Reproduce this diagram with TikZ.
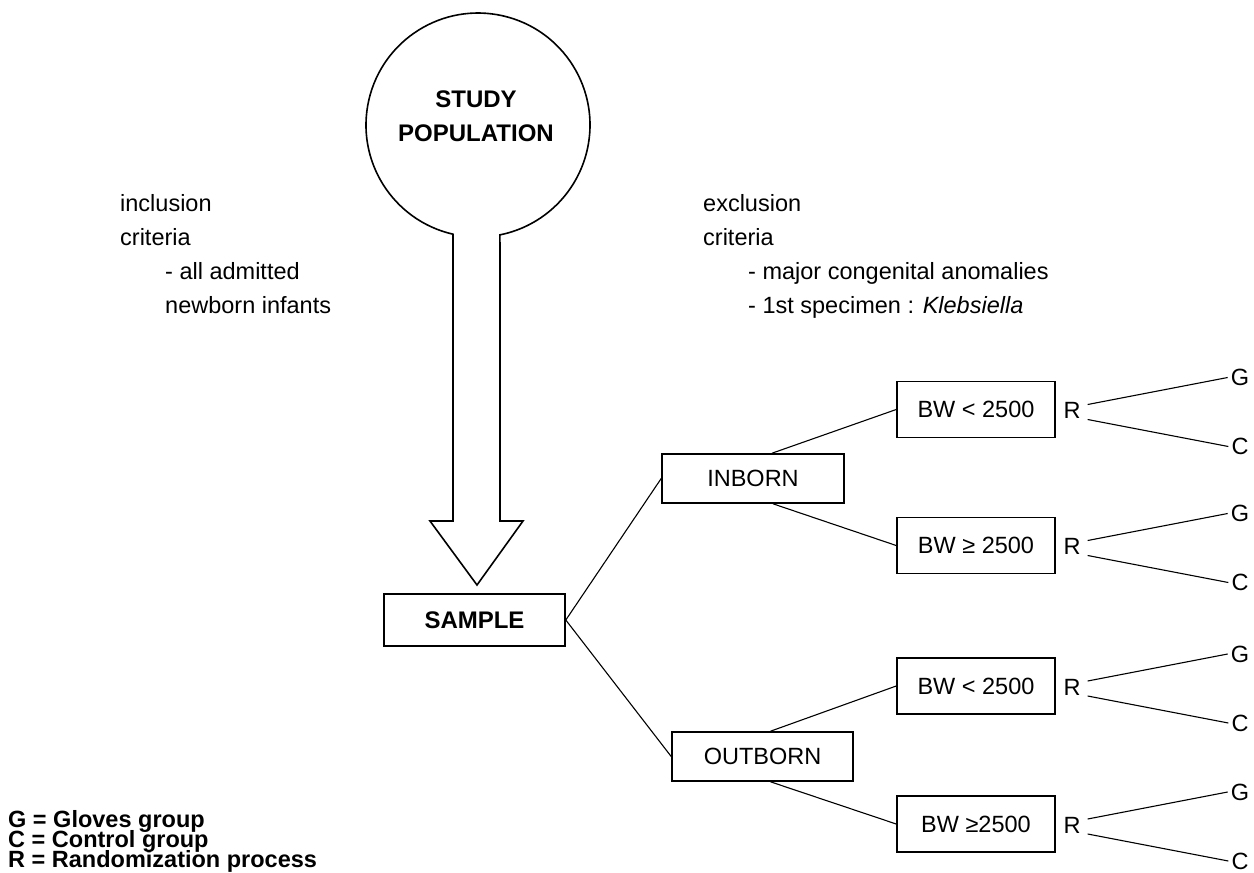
\documentclass[tikz,border=0pt]{standalone}
\usepackage{fontspec}
\setmainfont{Liberation Sans}
\newcommand{\txtfont}{\fontsize{23.5}{34}\selectfont}
\newcommand{\bftxtfont}{\fontsize{24}{34}\selectfont\bfseries}
\newcommand{\legfont}{\fontsize{23.5}{20}\selectfont\bfseries}
\begin{document}
\begin{tikzpicture}[x=1pt,y=-1pt,
  box/.style={draw, line width=1.6pt, inner sep=0pt, font=\txtfont},
  lbl/.style={inner sep=0pt, font=\txtfont},
  blbl/.style={inner sep=0pt, font=\bftxtfont},
  leg/.style={inner sep=0pt, font=\legfont, anchor=base west},
  conn/.style={line width=1.1pt}]
\useasboundingbox (0,0) rectangle (1254,873);

% study population circle with hollow arrow
\draw[line width=1.6pt, line join=miter]
  (453,521) -- (453,234.2) arc[start angle=102.9, end angle=438.7, radius=112]
  -- (500,521) -- (523,521) -- (477,585) -- (430,521) -- cycle;
\node[blbl, anchor=base] (study) at (476,107.5) {STUDY};
\node[blbl, anchor=base] (popul) at (476,141.5) {POPULATION};

% criteria texts
\node[lbl, anchor=base west] (inc1) at (120,211) {inclusion};
\node[lbl, anchor=base west] (inc2) at (120,245) {criteria};
\node[lbl, anchor=base west] (inc3) at (165,279) {- all admitted};
\node[lbl, anchor=base west] (inc4) at (165,313) {newborn infants};
\node[lbl, anchor=base west] (exc1) at (703,211) {exclusion};
\node[lbl, anchor=base west] (exc2) at (703,245) {criteria};
\node[lbl, anchor=base west] (exc3) at (748,279) {- major congenital anomalies};
\node[lbl, anchor=base west] (exc4) at (748,313) {- 1st specimen : \textit{Klebsiella}};

% boxes
\node[box, font=\bftxtfont, minimum width=181pt, minimum height=52pt] (sample) at (474.5,620) {SAMPLE};
\node[box, minimum width=182pt, minimum height=49pt] (inb) at (753,478.5) {INBORN};
\node[box, minimum width=181pt, minimum height=49pt] (outb) at (762.5,756.5) {OUTBORN};
\node[box, minimum width=158pt, minimum height=56pt] (bw1) at (976,409.5) {BW < 2500};
\node[box, minimum width=158pt, minimum height=56pt] (bw2) at (976,545.5) {BW ≥ 2500};
\node[box, minimum width=158pt, minimum height=56pt] (bw3) at (976,686) {BW < 2500};
\node[box, minimum width=158pt, minimum height=56pt] (bw4) at (976,824) {BW ≥2500};

% R, G, C labels
\foreach \i/\c in {1/409.5, 2/545.5, 3/686, 4/824}{
  \node[lbl] (r\i) at (1072,\c+1) {R};
  \node[lbl] (g\i) at (1240,\c-32) {G};
  \node[lbl] (c\i) at (1240,\c+37) {C};
  \draw[conn] ([shift={(7,-6)}]r\i.east) -- ([shift={(-3,0)}]g\i.west);
  \draw[conn] ([shift={(7,9)}]r\i.east) -- ([shift={(-3,0)}]c\i.west);
}

% connectors
\draw[conn] (sample.east) -- (inb.west);
\draw[conn] (sample.east) -- (outb.west);
\draw[conn] ([xshift=19pt]inb.north) -- (bw1.west);
\draw[conn] ([xshift=20pt]inb.south) -- (bw2.west);
\draw[conn] ([xshift=8pt]outb.north) -- (bw3.west);
\draw[conn] ([xshift=8pt]outb.south) -- (bw4.west);

% legend
\node[leg] (leg1) at (8,827) {G = Gloves group};
\node[leg] (leg2) at (8,847) {C = Control group};
\node[leg] (leg3) at (8,867) {R = Randomization process};
\end{tikzpicture}
\end{document}
